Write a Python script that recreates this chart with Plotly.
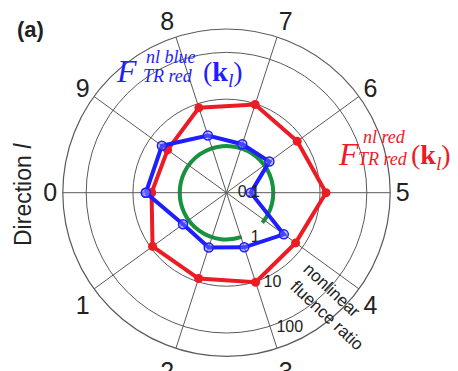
import plotly.graph_objects as go

W, H = 458, 371

directions = ["0", "1", "2", "3", "4", "5", "6", "7", "8", "9"]
red_values = [4.0, 9.0, 8.5, 10.3, 6.7, 13.4, 7.4, 9.6, 8.1, 3.6]
blue_values = [5.3, 1.41, 1.70, 1.69, 3.27, 0.33, 1.36, 1.23, 1.93, 5.1]
radial_ticks = [0.1, 10, 100]
radial_ticktext = ["0.1", "10", "100"]
unity_tick = [1]
unity_ticktext = ["1"]

RED = "#ec1c24"
BLUE = "#1e1eff"
GREEN = "#17923e"
GRID = "#5a5a5a"

def px(x):
    return x / W

def py(y):
    return 1 - y / H

cx, cy, R = 226.5, 192.7, 163.7
domain_x = [px(cx - R), px(cx + R)]
domain_y = [py(cy + R), py(cy - R)]

fig = go.Figure()

theta_loop = directions + [directions[0]]
red_loop = red_values + [red_values[0]]
blue_loop = blue_values + [blue_values[0]]

# invisible carrier so the unity-circle subplot is drawn
fig.add_trace(go.Scatterpolar(
    r=red_values, theta=directions, mode="markers",
    marker=dict(opacity=0, size=1), hoverinfo="skip",
    subplot="polar", showlegend=False))

fig.add_trace(go.Scatterpolar(
    r=red_loop, theta=theta_loop, mode="lines+markers",
    line=dict(color=RED, width=4),
    marker=dict(color=RED, size=9),
    subplot="polar2", showlegend=False, cliponaxis=False))
fig.add_trace(go.Scatterpolar(
    r=blue_loop, theta=theta_loop, mode="lines+markers",
    line=dict(color=BLUE, width=4),
    marker=dict(color="rgba(120,120,255,0.45)", size=9,
                line=dict(color=BLUE, width=1.5)),
    subplot="polar2", showlegend=False, cliponaxis=False))

AX_ANGLE = -74
radial_common = dict(type="log", range=[-1, 2.5], ticks="", showline=False,
                     angle=AX_ANGLE, side="counterclockwise",
                     tickangle=AX_ANGLE)
angular_common = dict(type="category", rotation=180,
                      direction="counterclockwise",
                      categoryorder="array", categoryarray=directions)

fig.update_layout(
    width=W, height=H,
    margin=dict(l=0, r=0, t=0, b=0),
    paper_bgcolor="white", plot_bgcolor="white",
    font=dict(family="Liberation Sans, Arial", color="#222"),
    polar=dict(
        domain=dict(x=domain_x, y=domain_y),
        sector=[-40, 289],
        bgcolor="rgba(0,0,0,0)",
        radialaxis=dict(**radial_common, tickvals=unity_tick,
                        ticktext=unity_ticktext,
                        gridcolor=GREEN, gridwidth=3.5,
                        tickfont=dict(size=16, color="#222")),
        angularaxis=dict(**angular_common, showgrid=False, showline=False,
                         showticklabels=False, ticks=""),
    ),
    polar2=dict(
        domain=dict(x=domain_x, y=domain_y),
        bgcolor="rgba(0,0,0,0)",
        radialaxis=dict(**radial_common, tickvals=radial_ticks,
                        ticktext=radial_ticktext,
                        gridcolor=GRID, gridwidth=1,
                        tickfont=dict(size=16, color="#222")),
        angularaxis=dict(**angular_common,
                         gridcolor=GRID, gridwidth=1,
                         showline=True, linecolor=GRID, linewidth=1.2,
                         ticks="", tickfont=dict(size=25, color="#222")),
    ),
)

serif = "Liberation Serif, Times New Roman, serif"
ann = []

def add(text, x, y, size, color="#222", family=None, angle=0):
    d = dict(text=text, x=px(x), y=py(y), xref="paper", yref="paper",
             xanchor="center", yanchor="middle", showarrow=False,
             font=dict(size=size, color=color), textangle=angle)
    if family:
        d["font"]["family"] = family
    ann.append(d)

add("<b>(a)</b>", 30, 29, 22)
add("Direction <i>l</i>", 23, 195, 23, angle=-90)
add("nonlinear", 332, 290, 17, angle=43)
add("fluence ratio", 327, 315, 17, angle=43)

# blue label
add("<i>F</i>", 127, 71, 32, BLUE, serif)
add("<i>nl blue</i>", 171, 57, 18, BLUE, serif)
add("<i>TR red</i>", 167.5, 76, 18, BLUE, serif)
add("(<b>k</b><sub><i>l</i></sub>)", 223, 73, 28, BLUE, serif)

# red label
add("<i>F</i>", 348, 154, 32, RED, serif)
add("<i>nl red</i>", 384, 137, 18, RED, serif)
add("<i>TR red</i>", 383, 159, 18, RED, serif)
add("(<b>k</b><sub><i>l</i></sub>)", 431, 157, 28, RED, serif)

fig.update_layout(annotations=ann)
fig.write_html("out.html", config={"displayModeBar": False},
               post_script="document.body.style.margin='0px';")
